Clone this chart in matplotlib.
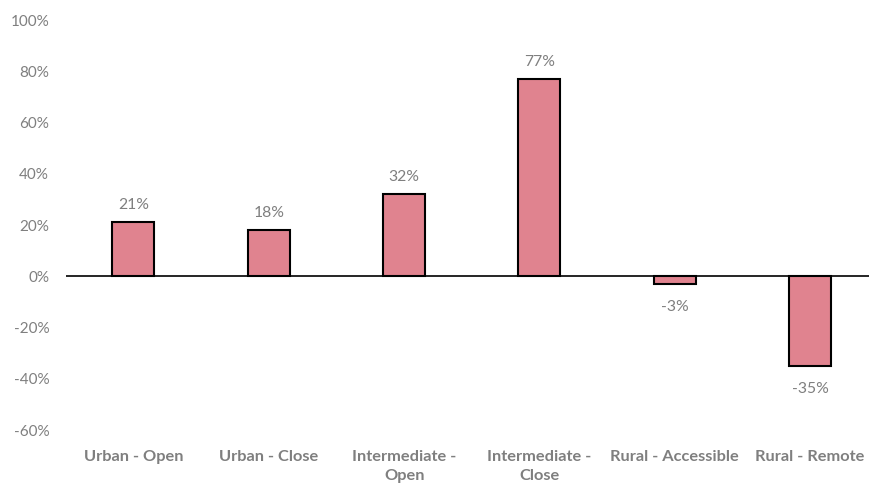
import matplotlib
matplotlib.use("Agg")
import matplotlib.pyplot as plt
import numpy as np

plt.rcParams['font.family'] = ['Lato', 'DejaVu Sans']

# change by settlement type
categories = ["Urban - Open", "Urban - Close", "Intermediate -\nOpen",
              "Intermediate -\nClose", "Rural - Accessible", "Rural - Remote"]
values = [21, 18, 32, 77, -3, -35]
yticks = [-60, -40, -20, 0, 20, 40, 60, 80, 100]

grey = "#7f7f7f"
bar_color = "#e0838f"

fig = plt.figure(figsize=(8.69, 4.84), dpi=100)
ax = fig.add_axes([65.8 / 869, 1 - 430 / 484, 812 / 869, 410 / 484])

x = np.arange(len(categories))
ax.bar(x, values, width=0.31, color=bar_color, edgecolor="black", linewidth=1.5, zorder=3)
ax.axhline(0, color="black", linewidth=1.2, zorder=2)

for xi, v in zip(x, values):
    off = 12.5 if v >= 0 else -16.5
    ax.annotate("%d%%" % v, (xi, v), xytext=(0, off), textcoords="offset points",
                ha="center", va="center", fontsize=11.3, color=grey)

ax.set_xlim(-0.5, len(categories) - 0.5)
ax.set_ylim(-60, 100)
ax.set_yticks(yticks)
ax.set_yticklabels(["%d%%" % t for t in yticks], fontsize=11, color=grey)
ax.set_xticks(x)
ax.set_xticklabels(categories, fontsize=11.8, color=grey, fontweight="bold",
                   linespacing=1.4, va="top")
ax.tick_params(axis="both", length=0)
ax.tick_params(axis="y", pad=12)
ax.tick_params(axis="x", pad=14.5)
for s in ax.spines.values():
    s.set_visible(False)

fig.savefig("out.png", dpi=100)
